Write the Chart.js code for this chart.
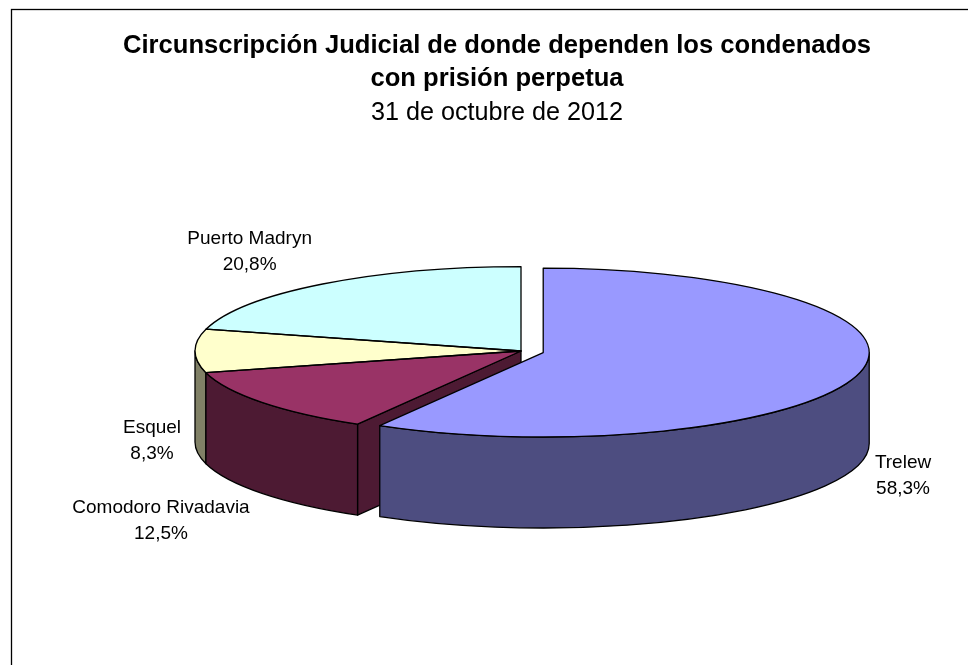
<!DOCTYPE html>
<html>
<head>
<meta charset="utf-8">
<title>Circunscripción Judicial</title>
<script src="https://cdn.jsdelivr.net/npm/chart.js@4"></script>
<style>
    html, body { margin: 0; padding: 0; background: #fff; }
    canvas { display: block; }
</style>
</head>
<body>
<canvas id="pieChart" width="968" height="665"></canvas>
<script>
const categories = ['Trelew', 'Comodoro Rivadavia', 'Esquel', 'Puerto Madryn'];
const shares = [58.3, 12.5, 8.3, 20.8];
const titleLines = ['Circunscripción Judicial de donde dependen los condenados', 'con prisión perpetua'];
const subtitleText = '31 de octubre de 2012';

const topColors = ['#9999ff', '#993366', '#ffffcc', '#ccffff'];
const wallColors = ['#4d4d80', '#4d1a33', '#808066', '#668080'];
const explode = [23, 0, 0, 0];

// layout of the fake 3D pie
const FONT = '"Liberation Sans", Arial, sans-serif';
const PIE_X = 521;
const PIE_Y = 351;
const RADIUS = 326;
const TILT = 0.259;
const DEPTH = 91;
// label centre relative to the slice's rim point
const labelNudge = [[45, 101], [-101, 118], [-43, 90], [-73, -32]];

function centerY(chart) {
    return (chart.chartArea.top + chart.chartArea.bottom) / 2;
}

function screenY(chart, y) {
    return PIE_Y + (y - centerY(chart)) * TILT;
}

const pie3d = {
    id: 'pie3d',
    beforeDraw(chart) {
        // chart frame runs off the picture on the right and bottom
        const ctx = chart.ctx;
        ctx.save();
        ctx.fillStyle = '#fff';
        ctx.fillRect(0, 0, chart.width, chart.height);
        ctx.strokeStyle = '#000';
        ctx.lineWidth = 1.3;
        ctx.strokeRect(11.5, 9.5, chart.width, chart.height);
        ctx.restore();
    },
    afterDatasetsUpdate(chart) {
        // pull slices out of the pie, arc offset option also grows big slices
        const centerX = (chart.chartArea.left + chart.chartArea.right) / 2;
        chart.getDatasetMeta(0).data.forEach((arc, i) => {
            const mid = (arc.startAngle + arc.endAngle) / 2;
            arc.x += PIE_X - centerX + Math.cos(mid) * explode[i];
            arc.y += Math.sin(mid) * explode[i];
        });
    },
    beforeDatasetsDraw(chart) {
        const ctx = chart.ctx;
        const arcs = chart.getDatasetMeta(0).data;
        ctx.save();
        ctx.strokeStyle = '#000';
        ctx.lineWidth = 1.3;
        ctx.lineJoin = 'round';

        // back to front: only the lower half of the rim shows
        for (let i = arcs.length - 1; i >= 0; i--) {
            const arc = arcs[i];
            const y = screenY(chart, arc.y);
            const r = arc.outerRadius;
            ctx.fillStyle = wallColors[i];

            // cut face left open by an exploded neighbour
            if (i > 0 && explode[i - 1] > 0) {
                const ex = arc.x + Math.cos(arc.startAngle) * r;
                const ey = y + Math.sin(arc.startAngle) * r * TILT;
                ctx.beginPath();
                ctx.moveTo(arc.x, y);
                ctx.lineTo(ex, ey);
                ctx.lineTo(ex, ey + DEPTH);
                ctx.lineTo(arc.x, y + DEPTH);
                ctx.closePath();
                ctx.fill();
                ctx.stroke();
            }

            const a0 = Math.max(arc.startAngle, 0);
            const a1 = Math.min(arc.endAngle, Math.PI);
            if (a1 > a0) {
                ctx.beginPath();
                ctx.ellipse(arc.x, y, r, r * TILT, 0, a0, a1);
                ctx.ellipse(arc.x, y + DEPTH, r, r * TILT, 0, a1, a0, true);
                ctx.closePath();
                ctx.fill();
                ctx.stroke();
            }
        }
        ctx.restore();

        // squash the slices chart.js draws next
        ctx.save();
        ctx.translate(0, PIE_Y);
        ctx.scale(1, TILT);
        ctx.translate(0, -centerY(chart));
    },
    afterDatasetsDraw(chart) {
        const ctx = chart.ctx;
        ctx.restore();

        const arcs = chart.getDatasetMeta(0).data;
        ctx.save();
        ctx.strokeStyle = '#000';
        ctx.lineWidth = 1.3;
        ctx.lineJoin = 'round';
        arcs.forEach(arc => {
            const y = screenY(chart, arc.y);
            const r = arc.outerRadius;
            ctx.beginPath();
            ctx.moveTo(arc.x, y);
            ctx.ellipse(arc.x, y, r, r * TILT, 0, arc.startAngle, arc.endAngle);
            ctx.closePath();
            ctx.stroke();
        });

        // slice labels
        ctx.fillStyle = '#000';
        ctx.font = '19px ' + FONT;
        ctx.textAlign = 'center';
        ctx.textBaseline = 'middle';
        arcs.forEach((arc, i) => {
            const mid = (arc.startAngle + arc.endAngle) / 2;
            const lx = arc.x + Math.cos(mid) * arc.outerRadius + labelNudge[i][0];
            const ly = screenY(chart, arc.y) + Math.sin(mid) * arc.outerRadius * TILT + labelNudge[i][1];
            ctx.fillText(categories[i], lx, ly - 13);
            ctx.fillText(shares[i].toFixed(1).replace('.', ',') + '%', lx, ly + 13);
        });
        ctx.restore();
    }
};

new Chart(document.getElementById('pieChart'), {
    type: 'pie',
    plugins: [pie3d],
    data: {
        labels: categories,
        datasets: [{
            data: shares,
            backgroundColor: topColors,
            borderWidth: 0,
            clip: false
        }]
    },
    options: {
        responsive: false,
        animation: false,
        radius: RADIUS,
        layout: {
            padding: { left: 26 }
        },
        plugins: {
            legend: { display: false },
            tooltip: { enabled: false },
            title: {
                display: true,
                text: titleLines,
                color: '#000',
                font: { family: FONT, size: 25.6, weight: 'bold', lineHeight: 1.3 },
                padding: { top: 29, bottom: 0 }
            },
            subtitle: {
                display: true,
                text: subtitleText,
                color: '#000',
                font: { family: FONT, size: 25.2, weight: 'normal', lineHeight: 1.33 },
                padding: { top: 1, bottom: 0 }
            }
        }
    }
});
</script>
</body>
</html>
